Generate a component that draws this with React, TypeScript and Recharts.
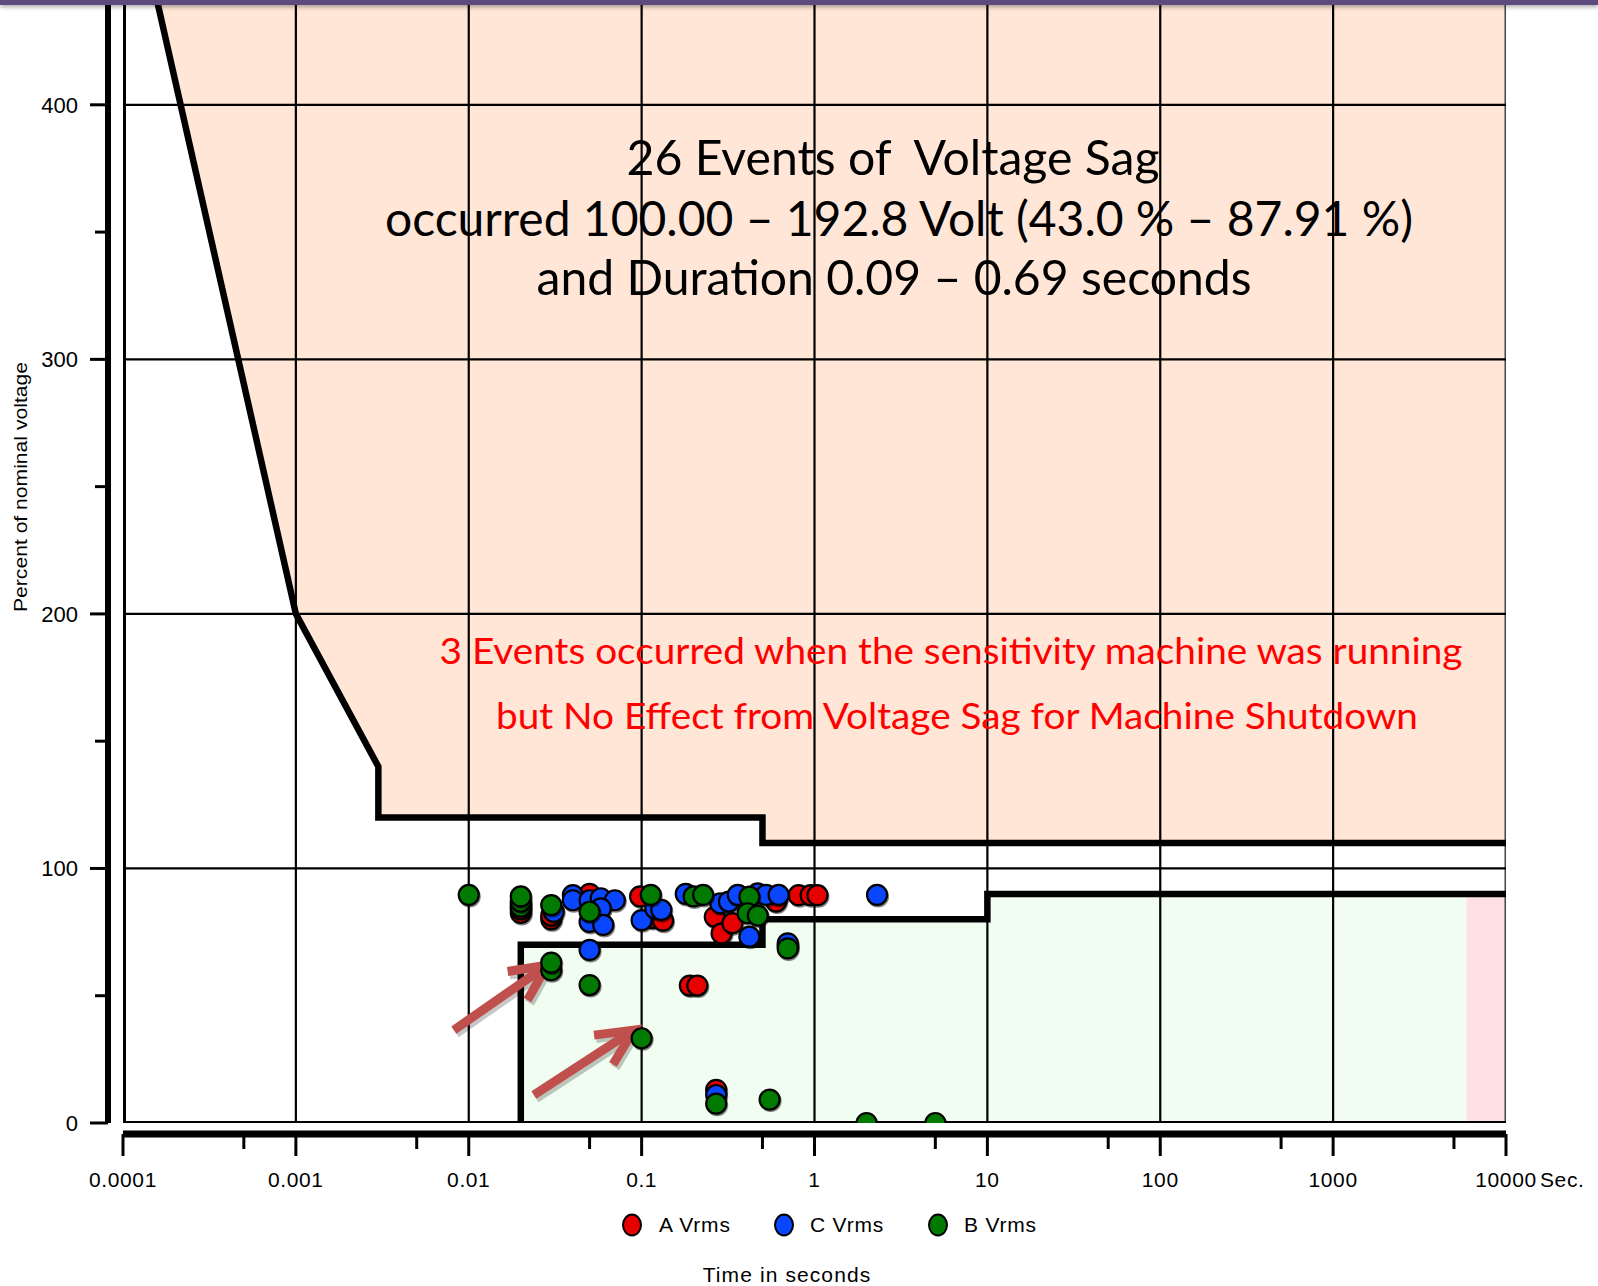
import { Area, ComposedChart, Line, ReferenceLine, Scatter, XAxis, YAxis } from "recharts";

const W = 1598;
const H = 1286;

// axes
const X_DECADES = [0.0001, 0.001, 0.01, 0.1, 1, 10, 100, 1000, 10000];
const X_DECADE_LABELS = ["0.0001", "0.001", "0.01", "0.1", "1", "10", "100", "1000", "10000"];
const X_MINOR = [0.0005, 0.005, 0.05, 0.5, 5, 50, 500, 5000];
const Y_MAJOR = [0, 100, 200, 300, 400];
const Y_MINOR = [50, 150, 250, 350];
const Y_MAX = 440;

// ITIC envelope (time s, % nominal)
const UPPER_T = [0.0001, 0.001, 0.003, 0.003, 0.5, 0.5, 10000];
const UPPER_V = [500, 200, 140, 120, 120, 110, 110];
const LOWER_T = [0.02, 0.02, 0.5, 0.5, 10, 10, 10000];
const LOWER_V = [0, 70, 70, 80, 80, 90, 90];
const GREEN_T = [0.02, 0.02, 0.5, 0.5, 10, 10, 5900];
const GREEN_V = [0, 70, 70, 80, 80, 90, 90];
const PINK_T = [5900, 10000];
const PINK_V = [90, 90];

// events [duration s, % nominal]
const A_VRMS: [number, number][] = [
  [0.02, 82.5], [0.02, 84], [0.03, 80], [0.03, 81.5], [0.05, 90], [0.098, 89],
  [0.116, 80.5], [0.133, 79.5], [0.19, 54], [0.21, 54], [0.265, 81], [0.29, 74.5],
  [0.335, 78.5], [0.27, 13], [0.6, 87], [0.7, 69.5], [0.81, 89.5], [0.95, 89.5], [1.04, 89.5],
];
const C_VRMS: [number, number][] = [
  [0.02, 86], [0.031, 83], [0.04, 89.5], [0.04, 87.5], [0.05, 87.5], [0.058, 88.3],
  [0.07, 87.5], [0.058, 84.3], [0.05, 79], [0.06, 77.8], [0.05, 68], [0.1, 79.7],
  [0.12, 84.3], [0.13, 83.7], [0.18, 90], [0.285, 86.3], [0.32, 87], [0.36, 89.6],
  [0.47, 90.2], [0.525, 89.6], [0.62, 89.6], [0.42, 73.2], [0.7, 70.6], [0.27, 11], [2.3, 89.6],
];
const B_VRMS: [number, number][] = [
  [0.01, 89.6], [0.02, 85], [0.02, 87], [0.02, 89], [0.03, 85.6], [0.03, 60], [0.03, 63],
  [0.05, 83], [0.05, 54.2], [0.1, 33.3], [0.113, 89.6], [0.2, 89], [0.227, 89.6],
  [0.42, 88.9], [0.41, 82.4], [0.47, 81.5], [0.7, 68.6], [0.27, 7.6], [0.55, 9.2], [2, 0], [5, 0],
];

// arrows pointing at the 3 highlighted events
const ARROWS: [number, number, number, number][] = [
  [0.0082, 36.5, 0.0284, 62],
  [0.0238, 11, 0.09, 36.5],
];

const RED = "#E60000";
const BLUE = "#0A46FF";
const GREEN = "#007A00";
const AXIS_FONT = "'Liberation Sans', Arial, sans-serif";

const pts = (ts: number[], vs: number[]) => ts.map((t, i) => ({ t, v: vs[i] }));
const toPts = (rows: [number, number][]) => rows.map(([t, v]) => ({ t, v }));

function XTick(props: any) {
  const { x, y, payload } = props;
  const i = X_DECADES.indexOf(payload.value);
  if (i < 0) {
    return <line x1={x} x2={x} y1={y + 11} y2={y + 26} stroke="#000" strokeWidth={3} />;
  }
  return (
    <g>
      <line x1={x} x2={x} y1={y + 11} y2={y + 33} stroke="#000" strokeWidth={3} />
      <text x={x} y={y + 64} textAnchor="middle" fontFamily={AXIS_FONT} fontSize={21} letterSpacing={0.6} fill="#000">
        {X_DECADE_LABELS[i]}
      </text>
      {payload.value === 10000 && (
        <text x={x + 34} y={y + 64} fontFamily={AXIS_FONT} fontSize={21} letterSpacing={0.6} fill="#000">
          Sec.
        </text>
      )}
    </g>
  );
}

function YTick(props: any) {
  const { x, y, payload } = props;
  if (!Y_MAJOR.includes(payload.value)) {
    return <line x1={x - 28} x2={x - 15} y1={y} y2={y} stroke="#000" strokeWidth={3} />;
  }
  return (
    <g>
      <line x1={x - 33} x2={x - 15} y1={y} y2={y} stroke="#000" strokeWidth={3} />
      <text x={x - 45} y={y + 8} textAnchor="end" fontFamily={AXIS_FONT} fontSize={22} fill="#000">
        {payload.value}
      </text>
    </g>
  );
}

const dot = (fill: string) => (p: any) => (
  <g>
    <circle cx={p.cx + 1} cy={p.cy + 1.5} r={11} fill="#000" opacity={0.5} />
    <circle cx={p.cx} cy={p.cy} r={10} fill={fill} stroke="#000" strokeWidth={2.2} />
  </g>
);

function Arrow(p: any) {
  const { x1, y1, x2, y2 } = p;
  const a = Math.atan2(y2 - y1, x2 - x1);
  const L = 40;
  const s = 0.45;
  const h1x = x2 - L * Math.cos(a - s);
  const h1y = y2 - L * Math.sin(a - s);
  const h2x = x2 - L * Math.cos(a + s);
  const h2y = y2 - L * Math.sin(a + s);
  const d = `M${x1},${y1}L${x2},${y2}M${h1x},${h1y}L${x2},${y2}L${h2x},${h2y}`;
  return (
    <g>
      <path d={d} transform="translate(2,3)" stroke="#000" strokeOpacity={0.22} strokeWidth={10} fill="none" />
      <path d={d} stroke="#C0504D" strokeWidth={9} fill="none" strokeLinejoin="miter" />
    </g>
  );
}

const lineProps = {
  dataKey: "v",
  dot: false,
  activeDot: false,
  isAnimationActive: false,
  legendType: "none" as const,
};

export default function App() {
  return (
    <div style={{ position: "absolute", left: 0, top: 0, width: W, height: H, background: "#fff", overflow: "hidden" }}>
      <ComposedChart width={W} height={H} margin={{ top: 3, right: 92, bottom: 93, left: 63 }}>
        <XAxis
          type="number"
          dataKey="t"
          scale="log"
          domain={[X_DECADES[0], X_DECADES[X_DECADES.length - 1]]}
          allowDataOverflow
          ticks={[...X_DECADES, ...X_MINOR]}
          interval={0}
          height={70}
          tickSize={0}
          tickMargin={0}
          tickLine={false}
          tick={<XTick />}
          axisLine={{ stroke: "#000", strokeWidth: 7, transform: "translate(0,11)" }}
        />
        <YAxis
          type="number"
          dataKey="v"
          domain={[0, Y_MAX]}
          allowDataOverflow
          ticks={[...Y_MAJOR, ...Y_MINOR]}
          interval={0}
          width={60}
          tickSize={0}
          tickMargin={0}
          tickLine={false}
          tick={<YTick />}
          axisLine={{ stroke: "#000", strokeWidth: 6, transform: "translate(-15,0)" }}
        />

        <Area
          data={pts(UPPER_T, UPPER_V)}
          dataKey={(d: any) => [d.v, Y_MAX]}
          type="linear"
          fill="#FFE6D6"
          fillOpacity={1}
          stroke="none"
          isAnimationActive={false}
          legendType="none"
        />
        <Area
          data={pts(GREEN_T, GREEN_V)}
          dataKey="v"
          baseValue={0}
          type="linear"
          fill="#F0FDF0"
          fillOpacity={1}
          stroke="none"
          isAnimationActive={false}
          legendType="none"
        />
        <Area
          data={pts(PINK_T, PINK_V)}
          dataKey="v"
          baseValue={0}
          type="linear"
          fill="#FFE0E2"
          fillOpacity={1}
          stroke="none"
          isAnimationActive={false}
          legendType="none"
        />

        {X_DECADES.map((d, i) => (
          <Line
            key={`gx${d}`}
            {...lineProps}
            data={[{ t: d, v: 0 }, { t: d, v: Y_MAX }]}
            stroke={i === X_DECADES.length - 1 ? "#444" : "#000"}
            strokeWidth={i === 0 ? 6 : i === X_DECADES.length - 1 ? 3 : 2.2}
          />
        ))}
        {Y_MAJOR.map((h) => (
          <Line
            key={`gy${h}`}
            {...lineProps}
            data={[{ t: X_DECADES[0], v: h }, { t: X_DECADES[X_DECADES.length - 1], v: h }]}
            stroke="#000"
            strokeWidth={h === 0 ? 4 : 2.2}
          />
        ))}

        <Line {...lineProps} data={pts(UPPER_T, UPPER_V)} stroke="#000" strokeWidth={6.5} type="linear" />
        <Line {...lineProps} data={pts(LOWER_T, LOWER_V)} stroke="#000" strokeWidth={6.5} type="linear" />

        <Scatter name="A Vrms" data={toPts(A_VRMS)} shape={dot(RED)} isAnimationActive={false} />
        <Scatter name="C Vrms" data={toPts(C_VRMS)} shape={dot(BLUE)} isAnimationActive={false} />
        <Scatter name="B Vrms" data={toPts(B_VRMS)} shape={dot(GREEN)} isAnimationActive={false} />

        {ARROWS.map(([t1, v1, t2, v2], i) => (
          <ReferenceLine
            key={`arr${i}`}
            segment={[{ x: t1, y: v1 }, { x: t2, y: v2 }]}
            ifOverflow="visible"
            shape={Arrow}
          />
        ))}
      </ComposedChart>

      <svg width={W} height={H} style={{ position: "absolute", left: 0, top: 0, pointerEvents: "none" }}>
        <g fontFamily="Lato, 'Noto Sans', sans-serif" fill="#000" textAnchor="middle">
          <text x={893} y={175} fontSize={48} textLength={533} lengthAdjust="spacingAndGlyphs" xmlSpace="preserve" style={{ whiteSpace: "pre" }}>
            {"26 Events of  Voltage Sag"}
          </text>
          <text x={899} y={236} fontSize={48} textLength={1028} lengthAdjust="spacingAndGlyphs">
            occurred 100.00 – 192.8 Volt (43.0 % – 87.91 %)
          </text>
          <text x={894} y={295} fontSize={48} textLength={715} lengthAdjust="spacingAndGlyphs">
            and Duration 0.09 – 0.69 seconds
          </text>
        </g>
        <g fontFamily="Lato, 'Noto Sans', sans-serif" fill="#FF0000" textAnchor="middle">
          <text x={951} y={664} fontSize={36} textLength={1023} lengthAdjust="spacingAndGlyphs">
            3 Events occurred when the sensitivity machine was running
          </text>
          <text x={957} y={729} fontSize={36} textLength={922} lengthAdjust="spacingAndGlyphs">
            but No Effect from Voltage Sag for Machine Shutdown
          </text>
        </g>

        <text
          transform="translate(27,487) rotate(-90)"
          textAnchor="middle"
          fontFamily={AXIS_FONT}
          fontSize={18}
          textLength={250}
          lengthAdjust="spacingAndGlyphs"
          fill="#000"
        >
          Percent of nominal voltage
        </text>

        <g fontFamily={AXIS_FONT} fontSize={21} letterSpacing={0.8} fill="#000">
          <ellipse cx={632} cy={1225} rx={9} ry={10.5} fill={RED} stroke="#000" strokeWidth={2} />
          <text x={659} y={1232}>A Vrms</text>
          <ellipse cx={784} cy={1225} rx={9} ry={10.5} fill={BLUE} stroke="#000" strokeWidth={2} />
          <text x={810} y={1232}>C Vrms</text>
          <ellipse cx={938} cy={1225} rx={9} ry={10.5} fill={GREEN} stroke="#000" strokeWidth={2} />
          <text x={964} y={1232}>B Vrms</text>
          <text x={787} y={1282} textAnchor="middle" letterSpacing={1.1}>
            Time in seconds
          </text>
        </g>
      </svg>

      <div
        style={{
          position: "absolute",
          left: 0,
          top: 0,
          width: W,
          height: 5,
          background: "#5D4A7F",
          boxShadow: "0 2px 4px rgba(0,0,0,0.35)",
        }}
      />
    </div>
  );
}
